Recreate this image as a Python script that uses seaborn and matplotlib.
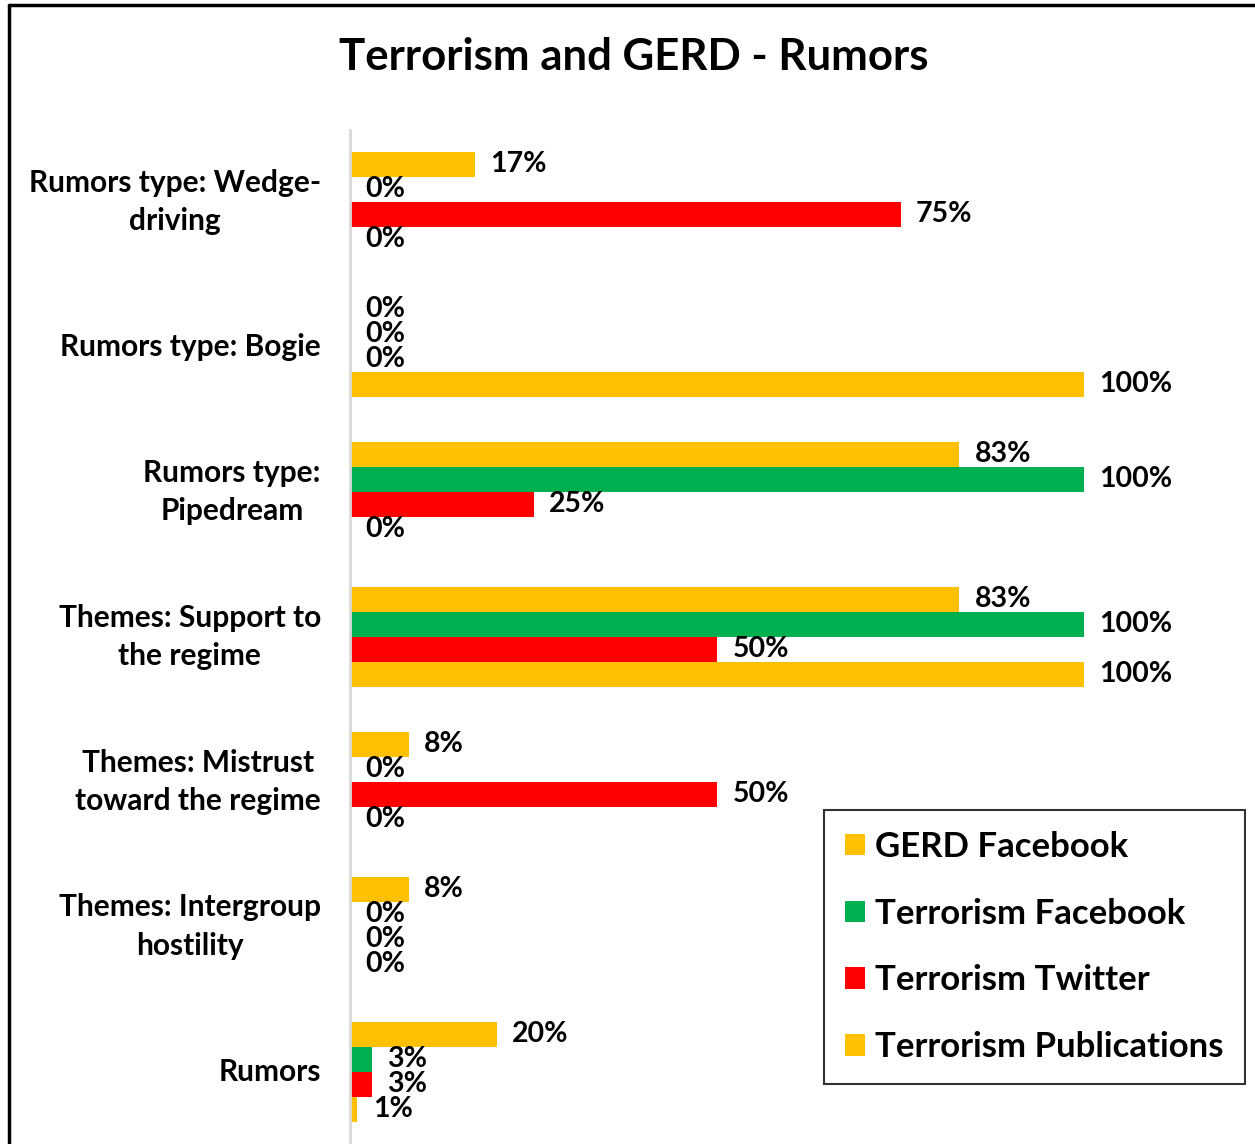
import pandas as pd
import numpy as np
import matplotlib.pyplot as plt
import seaborn as sns
from matplotlib.lines import Line2D
from matplotlib.patches import Patch

# Chart data
categories = [
    "Rumors type: Wedge-\ndriving",
    "Rumors type: Bogie",
    "Rumors type:\nPipedream",
    "Themes: Support to\nthe regime",
    "Themes: Mistrust\ntoward the regime",
    "Themes: Intergroup\nhostility",
    "Rumors",
]
series = ["GERD Facebook", "Terrorism Facebook", "Terrorism Twitter", "Terrorism Publications"]
gerd_facebook = [17, 0, 83, 83, 8, 8, 20]
terrorism_facebook = [0, 0, 100, 100, 0, 0, 3]
terrorism_twitter = [75, 0, 25, 50, 50, 0, 3]
terrorism_publications = [0, 100, 0, 100, 0, 0, 1]
colors = ["#FFC000", "#00B050", "#FF0000", "#FFC000"]

values = [gerd_facebook, terrorism_facebook, terrorism_twitter, terrorism_publications]
rows = []
for name, vals in zip(series, values):
    for cat, v in zip(categories, vals):
        rows.append({"category": cat, "series": name, "value": v / 100})
df = pd.DataFrame(rows)

sns.set_style("white")
plt.rcParams['font.family'] = ['Lato', 'DejaVu Sans']
plt.rcParams['font.weight'] = 'bold'
plt.rcParams['text.color'] = 'black'
plt.rcParams['ytick.color'] = 'black'

fig = plt.figure(figsize=(12.55, 11.44), dpi=100)
ax = fig.add_axes([350 / 1255, 0.0, 881 / 1255, 1014.5 / 1144])

sns.barplot(data=df, y="category", x="value", hue="series", hue_order=series,
            order=categories, palette=dict(zip(series, colors)), orient="h",
            width=0.69, gap=0, saturation=1, edgecolor="none", ax=ax, legend=False)

ax.set_xlim(0, 1.2)
ax.set_ylim(len(categories) - 0.5, -0.5)
ax.set_xticks([])
ax.set_xlabel("")
ax.set_ylabel("")
for s in ["top", "right", "bottom"]:
    ax.spines[s].set_visible(False)
ax.spines["left"].set_color("#D9D9D9")
ax.spines["left"].set_linewidth(2)
ax.tick_params(axis="y", length=0, pad=21, labelcolor="black")
for lbl in ax.get_yticklabels():
    lbl.set_fontsize(21.5)
    lbl.set_fontweight("bold")
    lbl.set_multialignment("center")
    lbl.set_linespacing(1.45)
    lbl.set_verticalalignment("center")

# data labels
for cont in ax.containers:
    labels = [f"{w * 100:.0f}%" for w in cont.datavalues]
    texts = ax.bar_label(cont, labels=labels, padding=11, fontsize=20.5, fontweight="bold",
                         color="black")
    for t in texts:
        t.set_verticalalignment("center")

fig.text(0.505, 1 - 57 / 1144, "Terrorism and GERD - Rumors", ha="center", va="center",
         fontsize=31.5, fontweight="bold", color="black")

handles = [Patch(facecolor=c, edgecolor="none") for c in colors]
leg = fig.legend(handles, series, loc="upper left",
                 bbox_to_anchor=(824 / 1255, 1 - 810 / 1144),
                 frameon=True, fontsize=25, handlelength=0.58, handleheight=0.58,
                 handletextpad=0.3, labelspacing=1.0, borderpad=0.6,
                 borderaxespad=0, fancybox=False, edgecolor="black")
leg.get_frame().set_linewidth(1.5)
for t in leg.get_texts():
    t.set_fontweight("bold")
    t.set_color("black")

# outer frame (left and top)
fig.add_artist(Line2D([9 / 1255, 9 / 1255], [0, 1 - 5 / 1144], color="black", lw=2.5,
                      transform=fig.transFigure))
fig.add_artist(Line2D([9 / 1255, 1], [1 - 5 / 1144, 1 - 5 / 1144], color="black", lw=2.5,
                      transform=fig.transFigure))

fig.savefig("out.png", dpi=100)
